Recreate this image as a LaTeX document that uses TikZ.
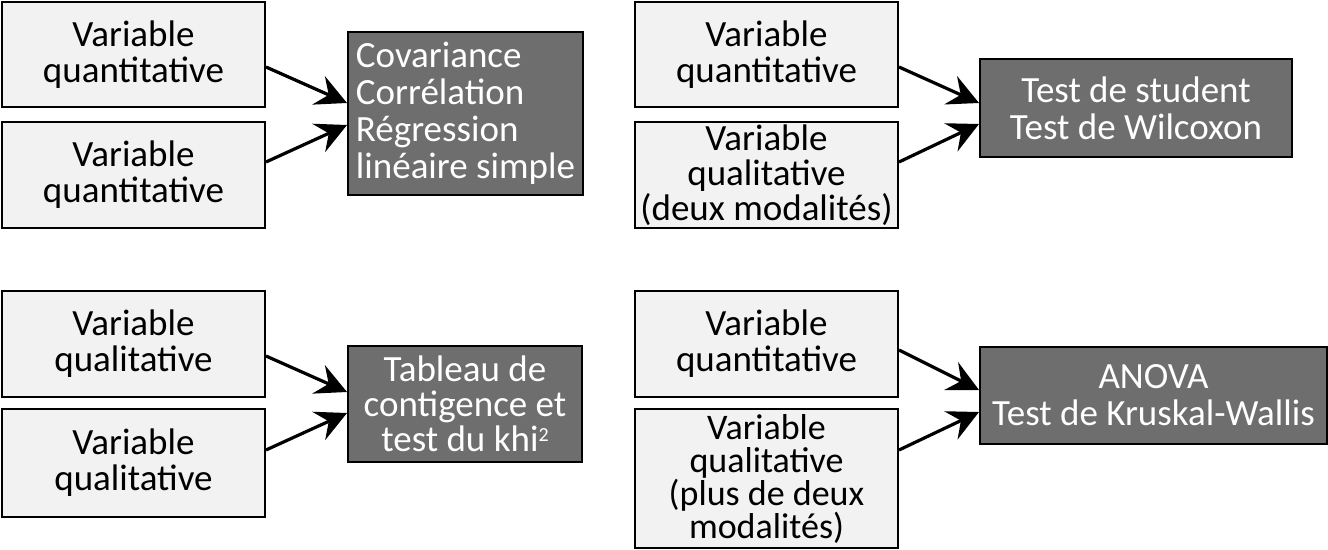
\documentclass[tikz,border=0pt]{standalone}
\usepackage{fontspec}
\setmainfont{Carlito}
\usetikzlibrary{arrows.meta}
\definecolor{lightfill}{HTML}{F2F2F2}
\definecolor{darkfill}{HTML}{6E6E6E}
\tikzset{
  lbox/.style={draw=black, line width=2pt, fill=lightfill, anchor=north west, inner sep=0pt,
    align=center, font=\fontsize{37}{36}\selectfont, text=black},
  dbox/.style={draw=black, line width=2pt, fill=darkfill, anchor=north west, inner sep=0pt,
    align=center, font=\fontsize{37}{37}\selectfont, text=white},
  arr/.style={line width=3.2pt, -{Stealth[length=31pt, width=31pt, inset=11pt]}},
}
\begin{document}
\begin{tikzpicture}[x=1pt,y=-1pt]
\useasboundingbox (0,0) rectangle (1328,549);
% top-left
\node[lbox, minimum width=263pt, minimum height=105pt] (a1) at (1,1) {Variable\\quantitative};
\node[lbox, minimum width=263pt, minimum height=106pt] (a2) at (1,121) {Variable\\quantitative};
\node[dbox, minimum width=235pt, minimum height=163pt, align=left] (c1) at (347,31) {Covariance\\Corrélation\\Régression\\linéaire simple};
% top-right
\node[lbox, minimum width=263pt, minimum height=105pt] (b1) at (634,1) {Variable\\quantitative};
\node[lbox, minimum width=263pt, minimum height=106pt, font=\fontsize{37}{35}\selectfont] (b2) at (634,121) {Variable\\qualitative\\(deux modalités)};
\node[dbox, minimum width=312pt, minimum height=98pt] (c2) at (979,58) {Test de student\\Test de Wilcoxon};
% bottom-left
\node[lbox, minimum width=263pt, minimum height=106pt] (d1) at (1,290) {Variable\\qualitative};
\node[lbox, minimum width=263pt, minimum height=108pt] (d2) at (1,408) {Variable\\qualitative};
\node[dbox, minimum width=234pt, minimum height=116pt, font=\fontsize{37}{35}\selectfont] (c3) at (347,345) {Tableau de\\contigence et\\test du khi\raisebox{10pt}{\fontsize{20}{20}\selectfont 2}};
% bottom-right
\node[lbox, minimum width=263pt, minimum height=106pt] (e1) at (634,290) {Variable\\quantitative};
\node[lbox, minimum width=263pt, minimum height=139pt, font=\fontsize{36}{33}\selectfont] (e2) at (634,408) {Variable\\qualitative\\(plus de deux\\modalités)};
\node[dbox, minimum width=347pt, minimum height=97pt] (c4) at (979,346) {ANOVA\\Test de Kruskal-Wallis};
% arrows
\draw[arr] (a1.east |- 0,67) -- (c1.west |- 0,103);
\draw[arr] (a2.east |- 0,162) -- (c1.west |- 0,125);
\draw[arr] (b1.east |- 0,67) -- (c2.west |- 0,103);
\draw[arr] (b2.east |- 0,162) -- (c2.west |- 0,124);
\draw[arr] (d1.east |- 0,356) -- (c3.west |- 0,392);
\draw[arr] (d2.east |- 0,450) -- (c3.west |- 0,413);
\draw[arr] (e1.east |- 0,350) -- (c4.west |- 0,390);
\draw[arr] (e2.east |- 0,450) -- (c4.west |- 0,412);
\end{tikzpicture}
\end{document}
